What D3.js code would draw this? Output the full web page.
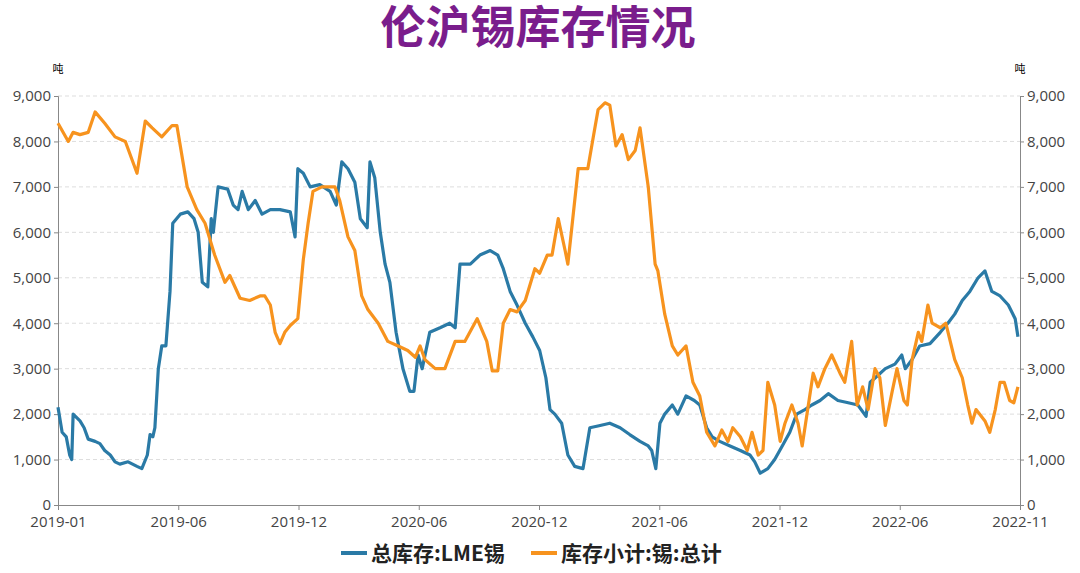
<!DOCTYPE html>
<html><head><meta charset="utf-8">
<script src="https://cdn.jsdelivr.net/npm/d3@7"></script>
<style>body{margin:0;background:#fff;font-family:"Noto Sans CJK SC","Noto Sans",sans-serif}</style>
</head><body><div id="chart"></div>
<script>
// days since 2019-01-01, tonnes
var lmeDays = [0,6,12,17,20,22,32,38,44,54,61,68,76,83,90,102,115,122,130,134,138,141,146,151,157,163,167,178,189,198,204,210,218,223,226,233,247,255,262,268,277,287,297,309,323,338,345,349,357,367,381,396,405,413,422,432,440,450,454,461,469,476,483,492,502,512,518,524,530,541,556,570,578,585,600,614,629,640,648,658,668,680,691,701,710,716,723,733,742,752,764,774,789,803,818,832,847,859,864,870,876,883,894,902,914,926,934,944,952,963,978,993,1007,1014,1022,1033,1043,1054,1065,1075,1087,1097,1109,1121,1135,1150,1164,1176,1182,1193,1204,1218,1228,1233,1243,1254,1269,1284,1295,1305,1316,1327,1339,1349,1359,1371,1383,1393,1397];
var lmeVals = [2150,1600,1500,1100,1000,2000,1850,1700,1450,1400,1350,1200,1100,950,900,950,850,800,1100,1550,1500,1700,3000,3500,3500,4700,6200,6400,6450,6300,6000,4900,4800,6300,6000,7000,6950,6600,6500,6900,6500,6700,6400,6500,6500,6450,5900,7400,7300,7000,7050,6900,6600,7550,7400,7100,6300,6100,7550,7200,6000,5300,4900,3800,3000,2500,2500,3300,3000,3800,3900,4000,3900,5300,5300,5500,5600,5500,5200,4700,4400,4000,3700,3400,2800,2100,2000,1800,1100,850,800,1700,1750,1800,1700,1550,1400,1300,1200,800,1800,2000,2200,2000,2400,2300,2200,1700,1500,1400,1300,1200,1100,950,700,800,1000,1300,1600,2000,2100,2200,2300,2450,2300,2250,2200,1950,2700,2850,3000,3100,3300,3000,3200,3500,3550,3800,4000,4200,4500,4700,5000,5150,4700,4600,4400,4100,3700];
var shfeDays = [0,15,22,32,44,54,68,83,98,115,127,137,151,166,173,188,202,214,228,243,250,265,279,294,301,309,316,323,330,338,349,357,364,371,384,403,410,422,432,442,451,466,480,495,509,520,527,534,549,563,578,592,610,624,632,640,648,658,668,680,694,701,712,719,728,738,742,757,771,779,786,796,803,812,821,830,840,847,859,869,873,883,894,902,914,924,934,944,956,966,975,982,993,1003,1010,1019,1026,1033,1043,1051,1058,1068,1077,1083,1091,1099,1106,1116,1126,1138,1145,1155,1163,1171,1179,1189,1196,1204,1214,1221,1231,1236,1243,1252,1257,1266,1272,1284,1292,1305,1316,1324,1330,1336,1349,1356,1364,1371,1377,1385,1391,1397];
var shfeVals = [8400,8000,8200,8150,8200,8650,8400,8100,8000,7300,8450,8300,8100,8350,8350,7000,6500,6200,5500,4900,5050,4550,4500,4600,4600,4400,3800,3550,3800,3950,4100,5400,6200,6900,7000,7000,6700,5900,5600,4600,4300,4000,3600,3500,3400,3250,3500,3200,3000,3000,3600,3600,4100,3600,2950,2950,4000,4300,4250,4500,5200,5100,5500,5500,6300,5600,5300,7400,7400,8100,8700,8850,8800,7900,8150,7600,7800,8300,7000,5300,5150,4200,3500,3300,3500,2700,2400,1600,1300,1650,1400,1700,1500,1200,1600,1100,1200,2700,2200,1400,1800,2200,1800,1300,2100,2900,2600,3000,3300,2900,2700,3600,2200,2600,2100,3000,2800,1750,2500,3000,2300,2200,3200,3800,3600,4400,4000,3900,4000,3200,2800,2200,1800,2100,1850,1600,2100,2700,2700,2300,2250,2600];
var xTicks = ["2019-01","2019-06","2019-12","2020-06","2020-12","2021-06","2021-12","2022-06","2022-11"];
var yTicks = [0,1000,2000,3000,4000,5000,6000,7000,8000,9000];
var seriesNames = ["总库存:LME锡","库存小计:锡:总计"];
var colors = ["#2a7aa6","#f7931e"];

var width = 1080, height = 573;
var mLeft = 58, mRight = 1020, mTop = 96, mBottom = 505;
var start = new Date(2019,0,1);
function dayDate(d){ return d3.timeDay.offset(start, d); }

var svg = d3.select("#chart").append("svg").attr("width", width).attr("height", height);
var x = d3.scaleTime().domain([start, new Date(2022,10,1)]).range([mLeft, mRight]);
var y = d3.scaleLinear().domain([0,9000]).range([mBottom, mTop]);
// tick labels sit evenly along the axis, as in the source chart
var xt = d3.scalePoint().domain(xTicks).range([mLeft, mRight]);

svg.append("text").attr("x", 538).attr("y", 44).attr("text-anchor","middle")
  .attr("font-size", 45).attr("font-weight","bold").attr("fill","#7a1d8c").text("伦沪锡库存情况");

// grid
svg.append("g").selectAll("line").data(yTicks.slice(1)).enter().append("line")
  .attr("x1", mLeft).attr("x2", mRight).attr("y1", y).attr("y2", y)
  .attr("stroke","#ddd").attr("stroke-dasharray","4,3");

var fmt = d3.format(",");
var axL = svg.append("g").attr("transform","translate("+mLeft+",0)")
  .call(d3.axisLeft(y).tickValues(yTicks).tickFormat(fmt).tickSize(4));
var axR = svg.append("g").attr("transform","translate("+mRight+",0)")
  .call(d3.axisRight(y).tickValues(yTicks).tickFormat(fmt).tickSize(4));
var axB = svg.append("g").attr("transform","translate(0,"+mBottom+")")
  .call(d3.axisBottom(xt).tickSize(5));
[axL,axR,axB].forEach(function(a){
  a.selectAll("path,line").attr("stroke","#888");
  a.selectAll("text").attr("font-size",15).attr("fill","#444").attr("font-family","Open Sans, sans-serif");
});
axB.selectAll("text").attr("dy","0.9em");

svg.append("text").attr("x", mLeft).attr("y", 73).attr("text-anchor","middle").attr("font-size",11).text("吨");
svg.append("text").attr("x", mRight).attr("y", 73).attr("text-anchor","middle").attr("font-size",11).text("吨");

var line = d3.line().x(function(d){return x(dayDate(d[0]));}).y(function(d){return y(d[1]);});
var sets = [d3.zip(lmeDays, lmeVals), d3.zip(shfeDays, shfeVals)];
sets.forEach(function(s,i){
  svg.append("path").datum(s).attr("d", line).attr("fill","none")
    .attr("stroke", colors[i]).attr("stroke-width",3.2).attr("stroke-linejoin","round");
});

// legend
var lg = svg.append("g");
var lx = [341, 531];
seriesNames.forEach(function(n,i){
  lg.append("line").attr("x1", lx[i]).attr("x2", lx[i]+26).attr("y1",553).attr("y2",553)
    .attr("stroke", colors[i]).attr("stroke-width",4);
  lg.append("text").attr("x", lx[i]+30).attr("y",561).attr("font-size",21).attr("font-weight","bold")
    .attr("fill","#222").text(n);
});
</script></body></html>
